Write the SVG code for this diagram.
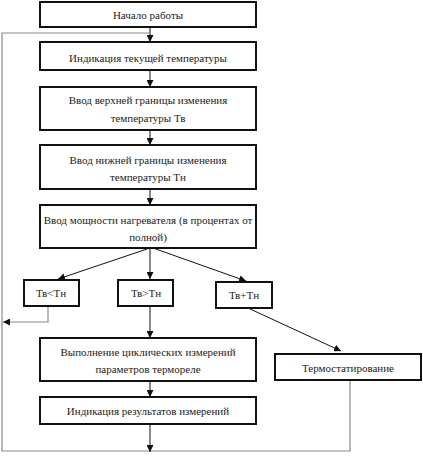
<svg xmlns="http://www.w3.org/2000/svg" width="423" height="456" viewBox="0 0 423 456">
<defs>
<style>
.box{fill:#fff;stroke:#111;stroke-width:2}
.t{font-family:'Liberation Serif','Times New Roman',serif;font-size:11px;fill:#222;text-anchor:middle}
.ln{fill:none;stroke:#111;stroke-width:1}
.gl{fill:none;stroke:#8a8a8a;stroke-width:1.2}
</style>
<marker id="ah" viewBox="0 0 10 10" refX="10" refY="5" markerWidth="7" markerHeight="7" markerUnits="userSpaceOnUse" orient="auto">
<path d="M0,0 L10,5 L0,10 Z" fill="#111"/>
</marker>
</defs>
<rect width="423" height="456" fill="#fff"/>
<g id="connectors">
<path class="ln" d="M150,27 V42" marker-end="url(#ah)"/>
<path class="gl" d="M150,33 H2 V451 H350 V380"/>
<path class="ln" d="M150,70 V87" marker-end="url(#ah)"/>
<path class="ln" d="M150,130 V145" marker-end="url(#ah)"/>
<path class="ln" d="M150,189 V205" marker-end="url(#ah)"/>
<path class="ln" d="M150,248 L58,279" marker-end="url(#ah)"/>
<path class="ln" d="M150,248 V279" marker-end="url(#ah)"/>
<path class="ln" d="M153,248 L246,281" marker-end="url(#ah)"/>
<path class="gl" d="M48,306 V322 H3" marker-end="url(#ah)"/>
<path class="ln" d="M150,306 V338" marker-end="url(#ah)"/>
<path class="ln" d="M248,308 L341,351" marker-end="url(#ah)"/>
<path class="ln" d="M150,381 V397" marker-end="url(#ah)"/>
<path class="ln" d="M150,424 V452" marker-end="url(#ah)"/>
</g>
<g id="n1"><rect class="box" x="40" y="2" width="216" height="25"/><text class="t" x="148" y="19">Начало работы</text></g>
<g id="n2"><rect class="box" x="40" y="42" width="216" height="28"/><text class="t" x="148" y="62">Индикация текущей температуры</text></g>
<g id="n3"><rect class="box" x="40" y="87" width="216" height="43"/><text class="t" x="148" y="104">Ввод верхней границы изменения</text><text class="t" x="148" y="122">температуры Тв</text></g>
<g id="n4"><rect class="box" x="40" y="145" width="216" height="44"/><text class="t" x="148" y="164">Ввод нижней границы изменения</text><text class="t" x="148" y="181">температуры Тн</text></g>
<g id="n5"><rect class="box" x="40" y="205" width="216" height="43"/><text class="t" x="148" y="224">Ввод мощности нагревателя (в процентах от</text><text class="t" x="148" y="241">полной)</text></g>
<g id="d1"><rect class="box" x="24" y="280" width="55" height="26"/><text class="t" x="51" y="297">Тв&lt;Тн</text></g>
<g id="d2"><rect class="box" x="118" y="280" width="55" height="26"/><text class="t" x="146" y="297">Тв&gt;Тн</text></g>
<g id="d3"><rect class="box" x="216" y="282" width="56" height="26"/><text class="t" x="244" y="299">Тв+Тн</text></g>
<g id="n6"><rect class="box" x="40" y="338" width="216" height="43"/><text class="t" x="148" y="356">Выполнение циклических измерений</text><text class="t" x="148" y="373">параметров термореле</text></g>
<g id="n7"><rect class="box" x="275" y="354" width="146" height="26"/><text class="t" x="348" y="372">Термостатирование</text></g>
<g id="n8"><rect class="box" x="40" y="397" width="216" height="27"/><text class="t" x="148" y="415">Индикация результатов измерений</text></g>
</svg>
